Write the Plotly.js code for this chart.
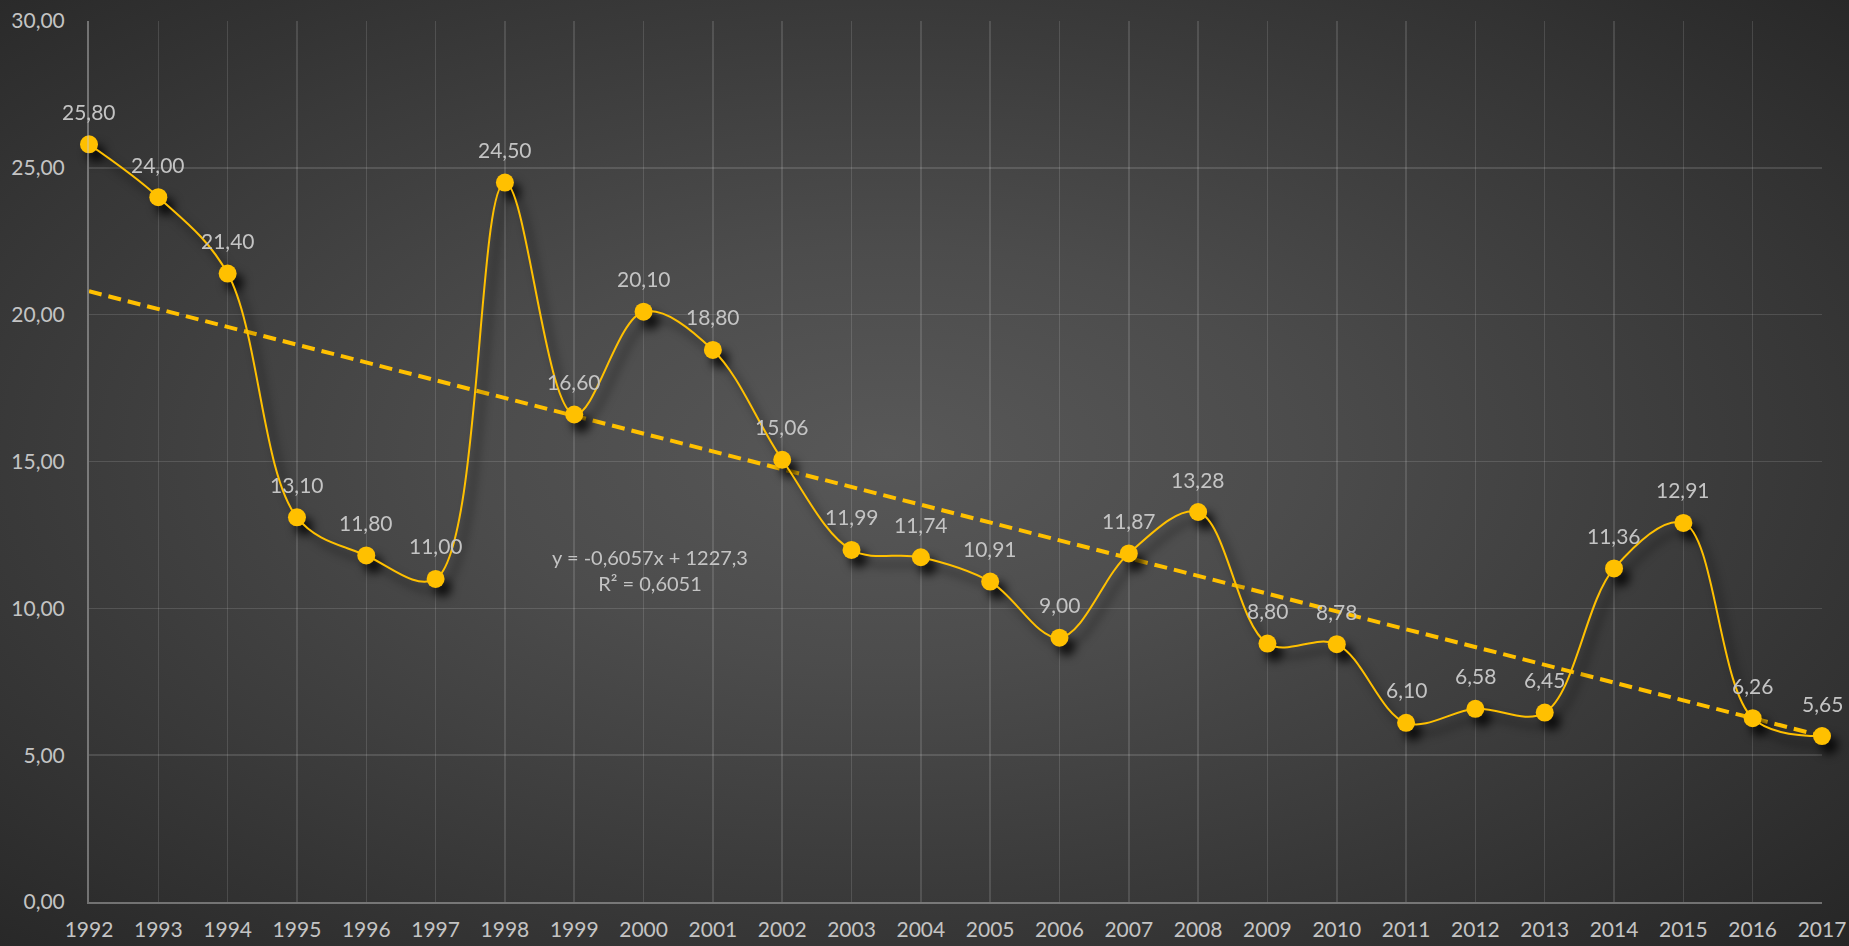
<!DOCTYPE html>
<html>
<head>
<meta charset="utf-8">
<script src="https://cdn.plot.ly/plotly-3.0.1.min.js"></script>
<style>
  html, body { margin: 0; padding: 0; width: 1849px; height: 946px; overflow: hidden; }
  #chart {
    width: 1849px; height: 946px;
    background: radial-gradient(ellipse farthest-corner at 48% 48%, #585858 0%, #4c4c4c 30%, #262626 100%);
  }
  .scatterlayer .trace:nth-child(2) { filter: drop-shadow(7px 9px 5px rgba(0,0,0,0.8)); }
</style>
</head>
<body>
<div id="chart"></div>
<script>
const years = [1992,1993,1994,1995,1996,1997,1998,1999,2000,2001,2002,2003,2004,2005,2006,2007,2008,2009,2010,2011,2012,2013,2014,2015,2016,2017];
const values = [25.80,24.00,21.40,13.10,11.80,11.00,24.50,16.60,20.10,18.80,15.06,11.99,11.74,10.91,9.00,11.87,13.28,8.80,8.78,6.10,6.58,6.45,11.36,12.91,6.26,5.65];
const equationLines = ["y = -0,6057x + 1227,3", "R² = 0,6051"];

// least squares trend line from the data
const n = years.length;
const mx = years.reduce((a,b)=>a+b,0)/n;
const my = values.reduce((a,b)=>a+b,0)/n;
let sxy = 0, sxx = 0;
for (let i = 0; i < n; i++) { sxy += (years[i]-mx)*(values[i]-my); sxx += (years[i]-mx)*(years[i]-mx); }
const slope = sxy/sxx, intercept = my - slope*mx;
const trendX = [years[0], years[n-1]];
const trendY = trendX.map(x => slope*x + intercept);

const gold = '#FFC000';
const labelColor = '#c4c4c4';
const fontFam = 'Lato, "Noto Sans", sans-serif';

const traces = [
  { x: trendX, y: trendY, mode: 'lines', line: { color: gold, width: 4, dash: '13px,7px' }, hoverinfo: 'skip', showlegend: false, cliponaxis: false },
  { x: years, y: values, mode: 'lines+markers', line: { color: gold, width: 2, shape: 'spline', smoothing: 1 },
    marker: { color: gold, size: 18 }, hoverinfo: 'skip', showlegend: false, cliponaxis: false }
];

const annotations = years.map((yr, i) => ({
  x: yr, y: values[i], text: values[i].toFixed(2).replace('.', ','), showarrow: false,
  yshift: 33, font: { family: fontFam, size: 21, color: labelColor }
}));
annotations.push({
  x: 2000.1, y: 11.3, text: equationLines.join('<br>'), showarrow: false,
  font: { family: fontFam, size: 20, color: labelColor }, align: 'center'
});

const layout = {
  width: 1849, height: 946,
  paper_bgcolor: 'rgba(0,0,0,0)', plot_bgcolor: 'rgba(0,0,0,0)',
  margin: { l: 89, r: 27, t: 21, b: 44 },
  separators: ',.',
  font: { family: fontFam, size: 21, color: labelColor },
  xaxis: {
    range: [1992, 2017], dtick: 1, tick0: 1992, tickformat: 'd',
    showgrid: true, gridcolor: 'rgba(255,255,255,0.13)', gridwidth: 1.5,
    showline: true, linecolor: 'rgba(200,200,200,0.45)', linewidth: 2,
    zeroline: false, ticks: '', ticklabelstandoff: 8,
    tickfont: { family: fontFam, size: 21, color: labelColor }
  },
  yaxis: {
    range: [0, 30], dtick: 5, tick0: 0, tickformat: '.2f',
    showgrid: true, gridcolor: 'rgba(255,255,255,0.13)', gridwidth: 1.5,
    showline: true, linecolor: 'rgba(200,200,200,0.45)', linewidth: 2,
    zeroline: false, ticks: '', ticklabelstandoff: 18,
    tickfont: { family: fontFam, size: 21, color: labelColor }
  },
  annotations: annotations,
  hovermode: false
};

Plotly.newPlot('chart', traces, layout, { displayModeBar: false, staticPlot: true });
</script>
</body>
</html>
